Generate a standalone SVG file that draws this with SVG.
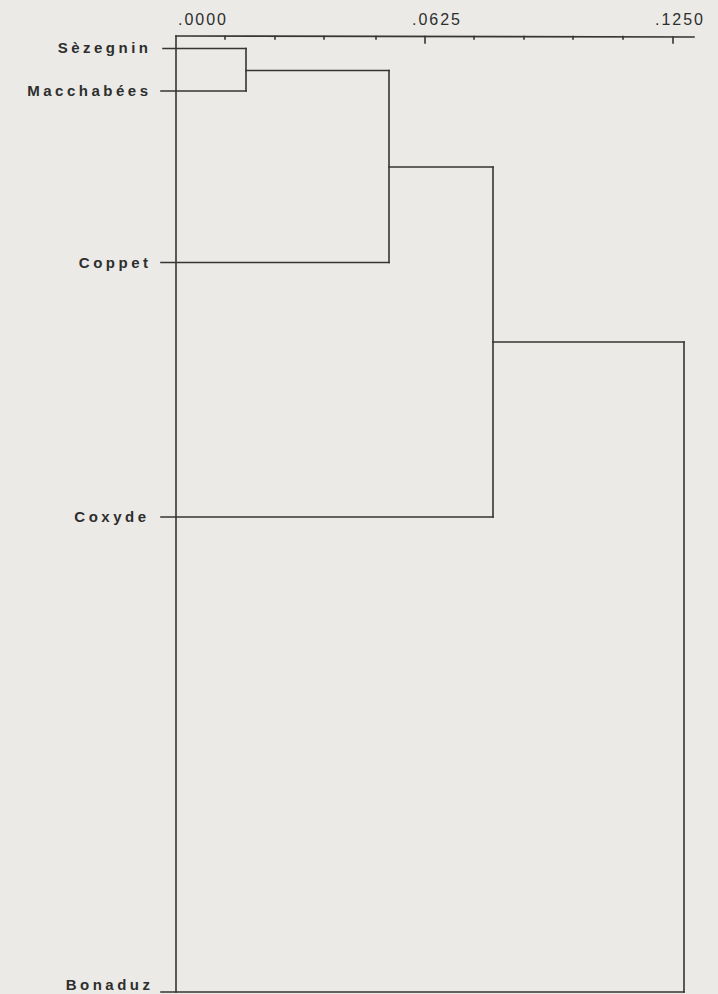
<svg xmlns="http://www.w3.org/2000/svg" width="718" height="994" viewBox="0 0 718 994">
<style>
.lbl{font-family:"Liberation Sans",Arial,sans-serif;font-size:15px;font-weight:bold;letter-spacing:3.5px;fill:#2e2e2e;text-anchor:end}
.ax{font-family:"Liberation Sans",Arial,sans-serif;font-size:16px;letter-spacing:2px;fill:#2e2e2e;text-anchor:middle}
.ln{fill:none;stroke:#353535;stroke-width:1.6;stroke-linecap:square}
</style>
<rect width="718" height="994" fill="#ebeae6"/>
<g id="axis">
<path class="ln" d="M176 36 L694 37"/>
<path class="ln" d="M225 36.5V39 M275 36.5V39 M324 36.5V39 M376 36.5V39 M425 36.5V43 M474 36.5V39 M524 36.5V39 M573 36.5V39 M623 36.5V39 M673 37V43"/>
<text class="ax" x="203" y="25">.0000</text>
<text class="ax" x="437" y="25">.0625</text>
<text class="ax" x="680" y="25">.1250</text>
</g>
<g id="connectors">
<path class="ln" d="M176 36V992"/>
<path class="ln" d="M246 48.5V91"/>
<path class="ln" d="M246 70.5H389"/>
<path class="ln" d="M389 70.5V262.5"/>
<path class="ln" d="M389 167H493"/>
<path class="ln" d="M493 167V517"/>
<path class="ln" d="M493 342H684"/>
<path class="ln" d="M684 342V992"/>
</g>
<g id="Sezegnin"><text class="lbl" x="151.5" y="53">Sèzegnin</text><path class="ln" d="M163 48.5H246"/></g>
<g id="Macchabees"><text class="lbl" x="151.5" y="96">Macchabées</text><path class="ln" d="M161 91H246"/></g>
<g id="Coppet"><text class="lbl" x="151.5" y="268">Coppet</text><path class="ln" d="M161 262.5H389"/></g>
<g id="Coxyde"><text class="lbl" x="149.5" y="522">Coxyde</text><path class="ln" d="M161 517H493"/></g>
<g id="Bonaduz"><text class="lbl" x="153.5" y="990">Bonaduz</text><path class="ln" d="M161 992H684"/></g>
</svg>
